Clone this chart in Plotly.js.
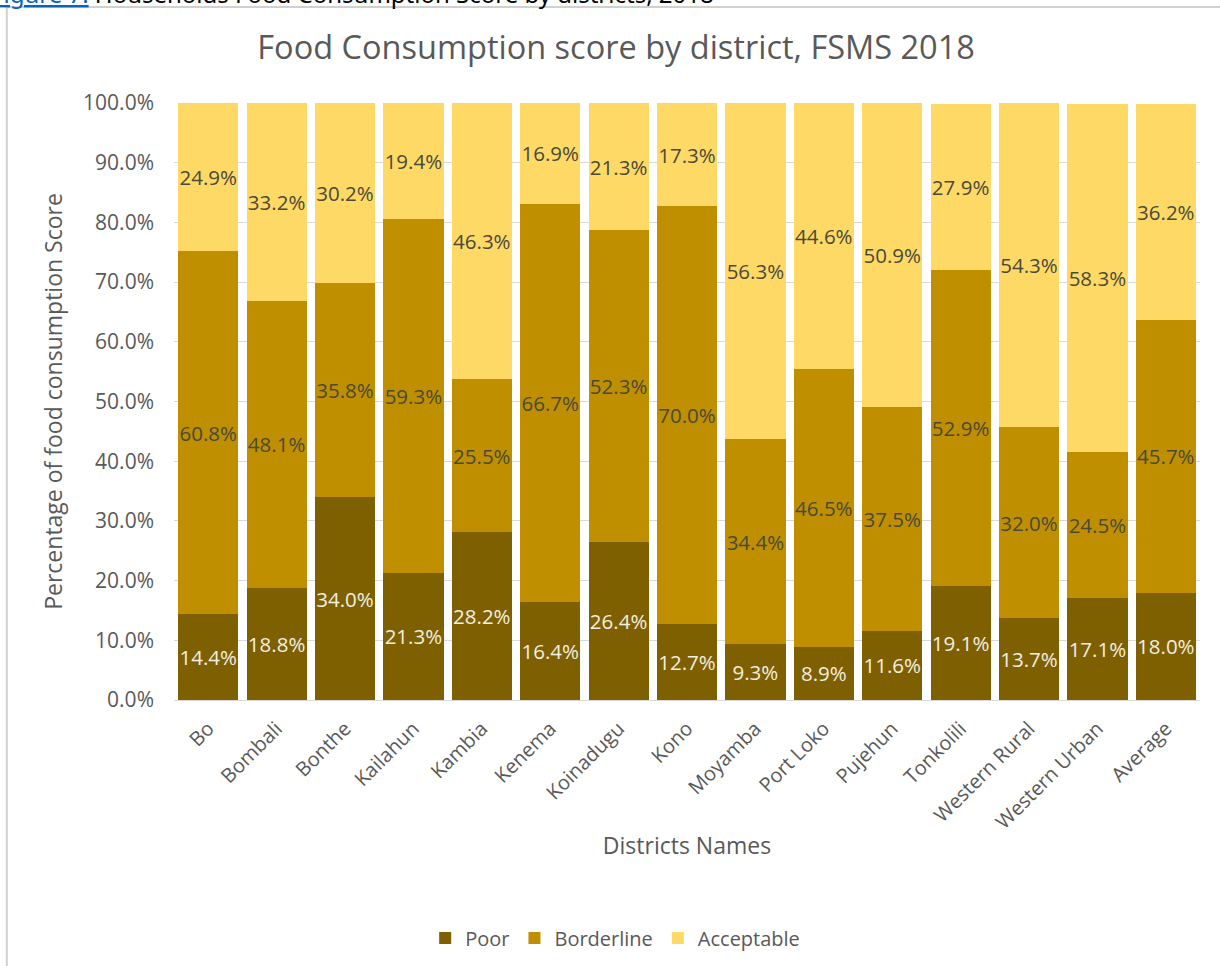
<!DOCTYPE html>
<html>
<head>
<meta charset="utf-8">
<script src="https://cdn.plot.ly/plotly-3.0.1.min.js"></script>
<style>
html,body{margin:0;padding:0;background:#fff;}
#chart{width:1220px;height:966px;}
</style>
</head>
<body>
<div id="chart"></div>
<script>
const districts = ["Bo","Bombali","Bonthe","Kailahun","Kambia","Kenema","Koinadugu","Kono","Moyamba","Port Loko","Pujehun","Tonkolili","Western Rural","Western Urban","Average"];
const poor = [14.4,18.8,34.0,21.3,28.2,16.4,26.4,12.7,9.3,8.9,11.6,19.1,13.7,17.1,18.0];
const borderline = [60.8,48.1,35.8,59.3,25.5,66.7,52.3,70.0,34.4,46.5,37.5,52.9,32.0,24.5,45.7];
const acceptable = [24.9,33.2,30.2,19.4,46.3,16.9,21.3,17.3,56.3,44.6,50.9,27.9,54.3,58.3,36.2];
const yTicks = [0,10,20,30,40,50,60,70,80,90,100];

const FONT = "Open Sans, Noto Sans, sans-serif";
function series(name, vals, color, txtColor){
  return {
    type:"bar", name:name, x:districts, y:vals,
    marker:{color:color},
    text: vals.map(v=>v.toFixed(1)+"%"),
    texttemplate:"%{text}",
    textposition:"inside", insidetextanchor:"middle",
    textangle:0, constraintext:"none",
    textfont:{family:FONT, size:20.5, color:txtColor},
    hoverinfo:"x+y"
  };
}
const data = [
  series("Poor", poor, "#7F6000", "#F2EEE0"),
  series("Borderline", borderline, "#BF8F00", "#4A4A3A"),
  series("Acceptable", acceptable, "#FFD966", "#4A4A3A")
];
const layout = {
  width:1220, height:966,
  paper_bgcolor:"#fff", plot_bgcolor:"#fff",
  barmode:"stack", bargap:0.12,
  margin:{l:174, r:20, t:103, b:266},
  font:{family:FONT, color:"#595959"},
  title:{text:"Food Consumption score by district, FSMS 2018", x:0.505, xanchor:"center", y:0.951, yanchor:"middle",
         font:{family:FONT, size:32.5, color:"#595959"}},
  xaxis:{tickangle:-45, tickfont:{family:FONT, size:20, color:"#595959"},
         automargin:false, ticklabelstandoff:12,
         title:{text:"Districts Names", font:{family:FONT, size:23, color:"#595959"}, standoff:4},
         showline:false, ticks:""},
  yaxis:{range:[0,100], tickvals:yTicks, ticktext:yTicks.map(v=>v.toFixed(1)+"%"),
         tickfont:{family:FONT, size:21, color:"#595959"},
         automargin:false,
         gridcolor:"#D9D9D9", zeroline:true, zerolinecolor:"#D9D9D9",
         ticklabelstandoff:19,
         title:{text:"Percentage of food consumption Score", font:{family:FONT, size:23, color:"#595959"}, standoff:14},
         ticks:"", ticklen:0},
  legend:{orientation:"h", xref:"paper", x:0.43, xanchor:"center", yref:"container", y:0.029, yanchor:"middle",
          font:{family:FONT, size:20, color:"#595959"}, traceorder:"normal", itemwidth:30},
  shapes:[
    {type:"line", xref:"paper", yref:"paper", x0:-0.163, x1:1.05, y0:1.161, y1:1.161, line:{color:"#D0D0D0", width:2}},
    {type:"line", xref:"paper", yref:"paper", x0:-0.163, x1:-0.163, y0:1.161, y1:-0.5, line:{color:"#D0D0D0", width:2}}
  ],
  annotations:[
    {xref:"paper", yref:"paper", x:-0.18, y:1.183, xanchor:"left", yanchor:"middle", showarrow:false,
     text:"<span style='color:#0563C1'><u>Figure 7:</u></span> Households Food Consumption Score by districts, 2018",
     font:{family:"Noto Sans, sans-serif", size:24, color:"#000"}}
  ]
};
Plotly.newPlot("chart", data, layout, {displayModeBar:false, staticPlot:true});
</script>
</body>
</html>
